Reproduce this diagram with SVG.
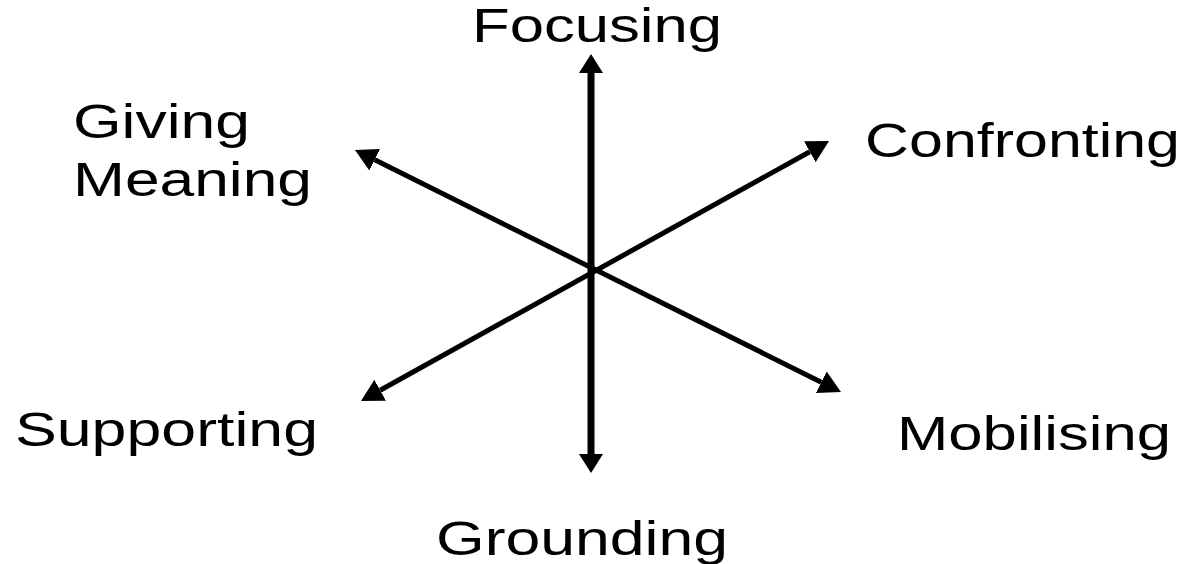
<svg xmlns="http://www.w3.org/2000/svg" width="1194" height="564" viewBox="0 0 1194 564">
<style>
text{font-family:"Liberation Sans",Arial,sans-serif;font-size:49px;fill:#000}
.ax{stroke:#000;fill:none}
</style>
<defs>
<marker id="hv" markerUnits="userSpaceOnUse" viewBox="0 -12 19 24" markerWidth="19" markerHeight="24" refX="0" refY="0" orient="auto-start-reverse"><path d="M0,-12 L19,0 L0,12 Z" fill="#000"/></marker>
<marker id="hd" markerUnits="userSpaceOnUse" viewBox="0 -12 22 24" markerWidth="22" markerHeight="24" refX="0" refY="0" orient="auto-start-reverse"><path d="M0,-12 L22,0 L0,12 Z" fill="#000"/></marker>
</defs>
<rect width="1194" height="564" fill="#fff"/>
<g id="connectors">
<line class="ax" x1="591" y1="73" x2="591" y2="454" stroke-width="7" marker-start="url(#hv)" marker-end="url(#hv)"/>
<line class="ax" x1="374.7" y1="159.8" x2="821.3" y2="382.2" stroke-width="5" marker-start="url(#hd)" marker-end="url(#hd)"/>
<line class="ax" x1="380.2" y1="390.3" x2="809.8" y2="151.7" stroke-width="5" marker-start="url(#hd)" marker-end="url(#hd)"/>
</g>
<g id="focusing"><text x="472" y="42" textLength="250" lengthAdjust="spacingAndGlyphs">Focusing</text></g>
<g id="giving-meaning"><text x="73" y="138" textLength="177" lengthAdjust="spacingAndGlyphs">Giving</text><text x="73" y="196" textLength="239" lengthAdjust="spacingAndGlyphs">Meaning</text></g>
<g id="confronting"><text x="865" y="157" textLength="315" lengthAdjust="spacingAndGlyphs">Confronting</text></g>
<g id="supporting"><text x="15" y="446" textLength="303" lengthAdjust="spacingAndGlyphs">Supporting</text></g>
<g id="mobilising"><text x="897" y="450" textLength="274" lengthAdjust="spacingAndGlyphs">Mobilising</text></g>
<g id="grounding"><text x="436" y="555" textLength="292" lengthAdjust="spacingAndGlyphs">Grounding</text></g>
</svg>
